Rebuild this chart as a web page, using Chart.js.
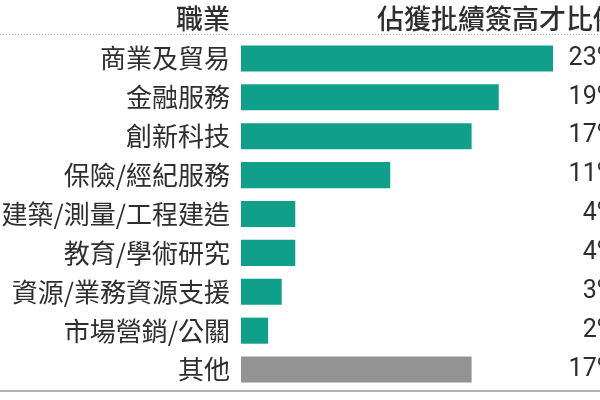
<!DOCTYPE html>
<html>
<head>
<meta charset="utf-8">
<script src="https://cdn.jsdelivr.net/npm/chart.js@4/dist/chart.umd.min.js"></script>
<style>
  html, body { margin: 0; padding: 0; background: #fff; overflow: hidden; }
  #wrap { width: 600px; height: 400px; overflow: hidden; }
  canvas { display: block; }
</style>
</head>
<body>
<div id="wrap"><canvas id="chart" width="640" height="400"></canvas></div>
<script>
// occupations, top to bottom
const categories = [
  '商業及貿易', '金融服務', '創新科技', '保險/經紀服務',
  '建築/測量/工程建造', '教育/學術研究', '資源/業務資源支援',
  '市場營銷/公關', '其他'
];
// share of approved renewals (%)
const shares = [23, 19, 17, 11, 4, 4, 3, 2, 17];
const shareLabels = shares.map(v => v + '%');
const headers = ['職業', '佔獲批續簽高才比例'];

const TEAL = '#0f9f8a';
const GREY = '#939393';
const TEXT = '#2e2e2e';
const CJK = '"Noto Sans CJK TC", "Noto Sans", sans-serif';

// header texts, dotted rule under header and the closing rule at bottom
const decor = {
  id: 'decor',
  beforeDraw(chart) {
    const c = chart.ctx;
    const area = chart.chartArea;
    c.save();
    c.fillStyle = '#fff';
    c.fillRect(0, 0, chart.width, chart.height);

    c.fillStyle = TEXT;
    c.font = '500 27px ' + CJK;
    c.textBaseline = 'middle';
    c.textAlign = 'right';
    c.fillText(headers[0], 230, 19);
    c.textAlign = 'left';
    c.fillText(headers[1], 377, 19);

    c.strokeStyle = '#b8b8b8';
    c.lineWidth = 1;
    c.setLineDash([1, 2]);
    c.beginPath();
    c.moveTo(0, 34.5);
    c.lineTo(chart.width, 34.5);
    c.stroke();

    c.setLineDash([]);
    c.strokeStyle = '#9a9a9a';
    c.lineWidth = 1.5;
    c.beginPath();
    c.moveTo(0, area.bottom + 2);
    c.lineTo(chart.width, area.bottom + 2);
    c.stroke();
    c.restore();
  }
};

// fixed axis widths, no extra label padding above/below
function fitTo(width) {
  return s => {
    s.width = width;
    s.paddingTop = 0;
    s.paddingBottom = 0;
  };
}

new Chart(document.getElementById('chart'), {
  type: 'bar',
  data: {
    labels: categories,
    datasets: [{
      data: shares,
      backgroundColor: ctx => categories[ctx.dataIndex] === '其他' ? GREY : TEAL,
      borderWidth: 0,
      categoryPercentage: 1,
      barPercentage: 0.67,
      yAxisID: 'y'
    }]
  },
  options: {
    indexAxis: 'y',
    responsive: false,
    animation: false,
    layout: { padding: { top: 39, bottom: 11, left: 0, right: 25 } },
    plugins: {
      legend: { display: false },
      tooltip: { enabled: false }
    },
    scales: {
      x: {
        display: false,
        min: 0,
        max: 23
      },
      y: {
        type: 'category',
        position: 'left',
        offset: true,
        grid: { display: false, drawTicks: false },
        border: { display: false },
        ticks: {
          autoSkip: false,
          padding: 11,
          color: TEXT,
          font: { family: CJK, size: 26 }
        },
        afterFit: fitTo(241)
      },
      y2: {
        type: 'category',
        position: 'right',
        labels: shareLabels,
        offset: true,
        grid: { display: false, drawTicks: false },
        border: { display: false },
        ticks: {
          autoSkip: false,
          padding: 15,
          crossAlign: 'far',
          color: TEXT,
          font: { family: 'Roboto', size: 25 }
        },
        afterFit: fitTo(62)
      }
    }
  },
  plugins: [decor]
});
</script>
</body>
</html>
